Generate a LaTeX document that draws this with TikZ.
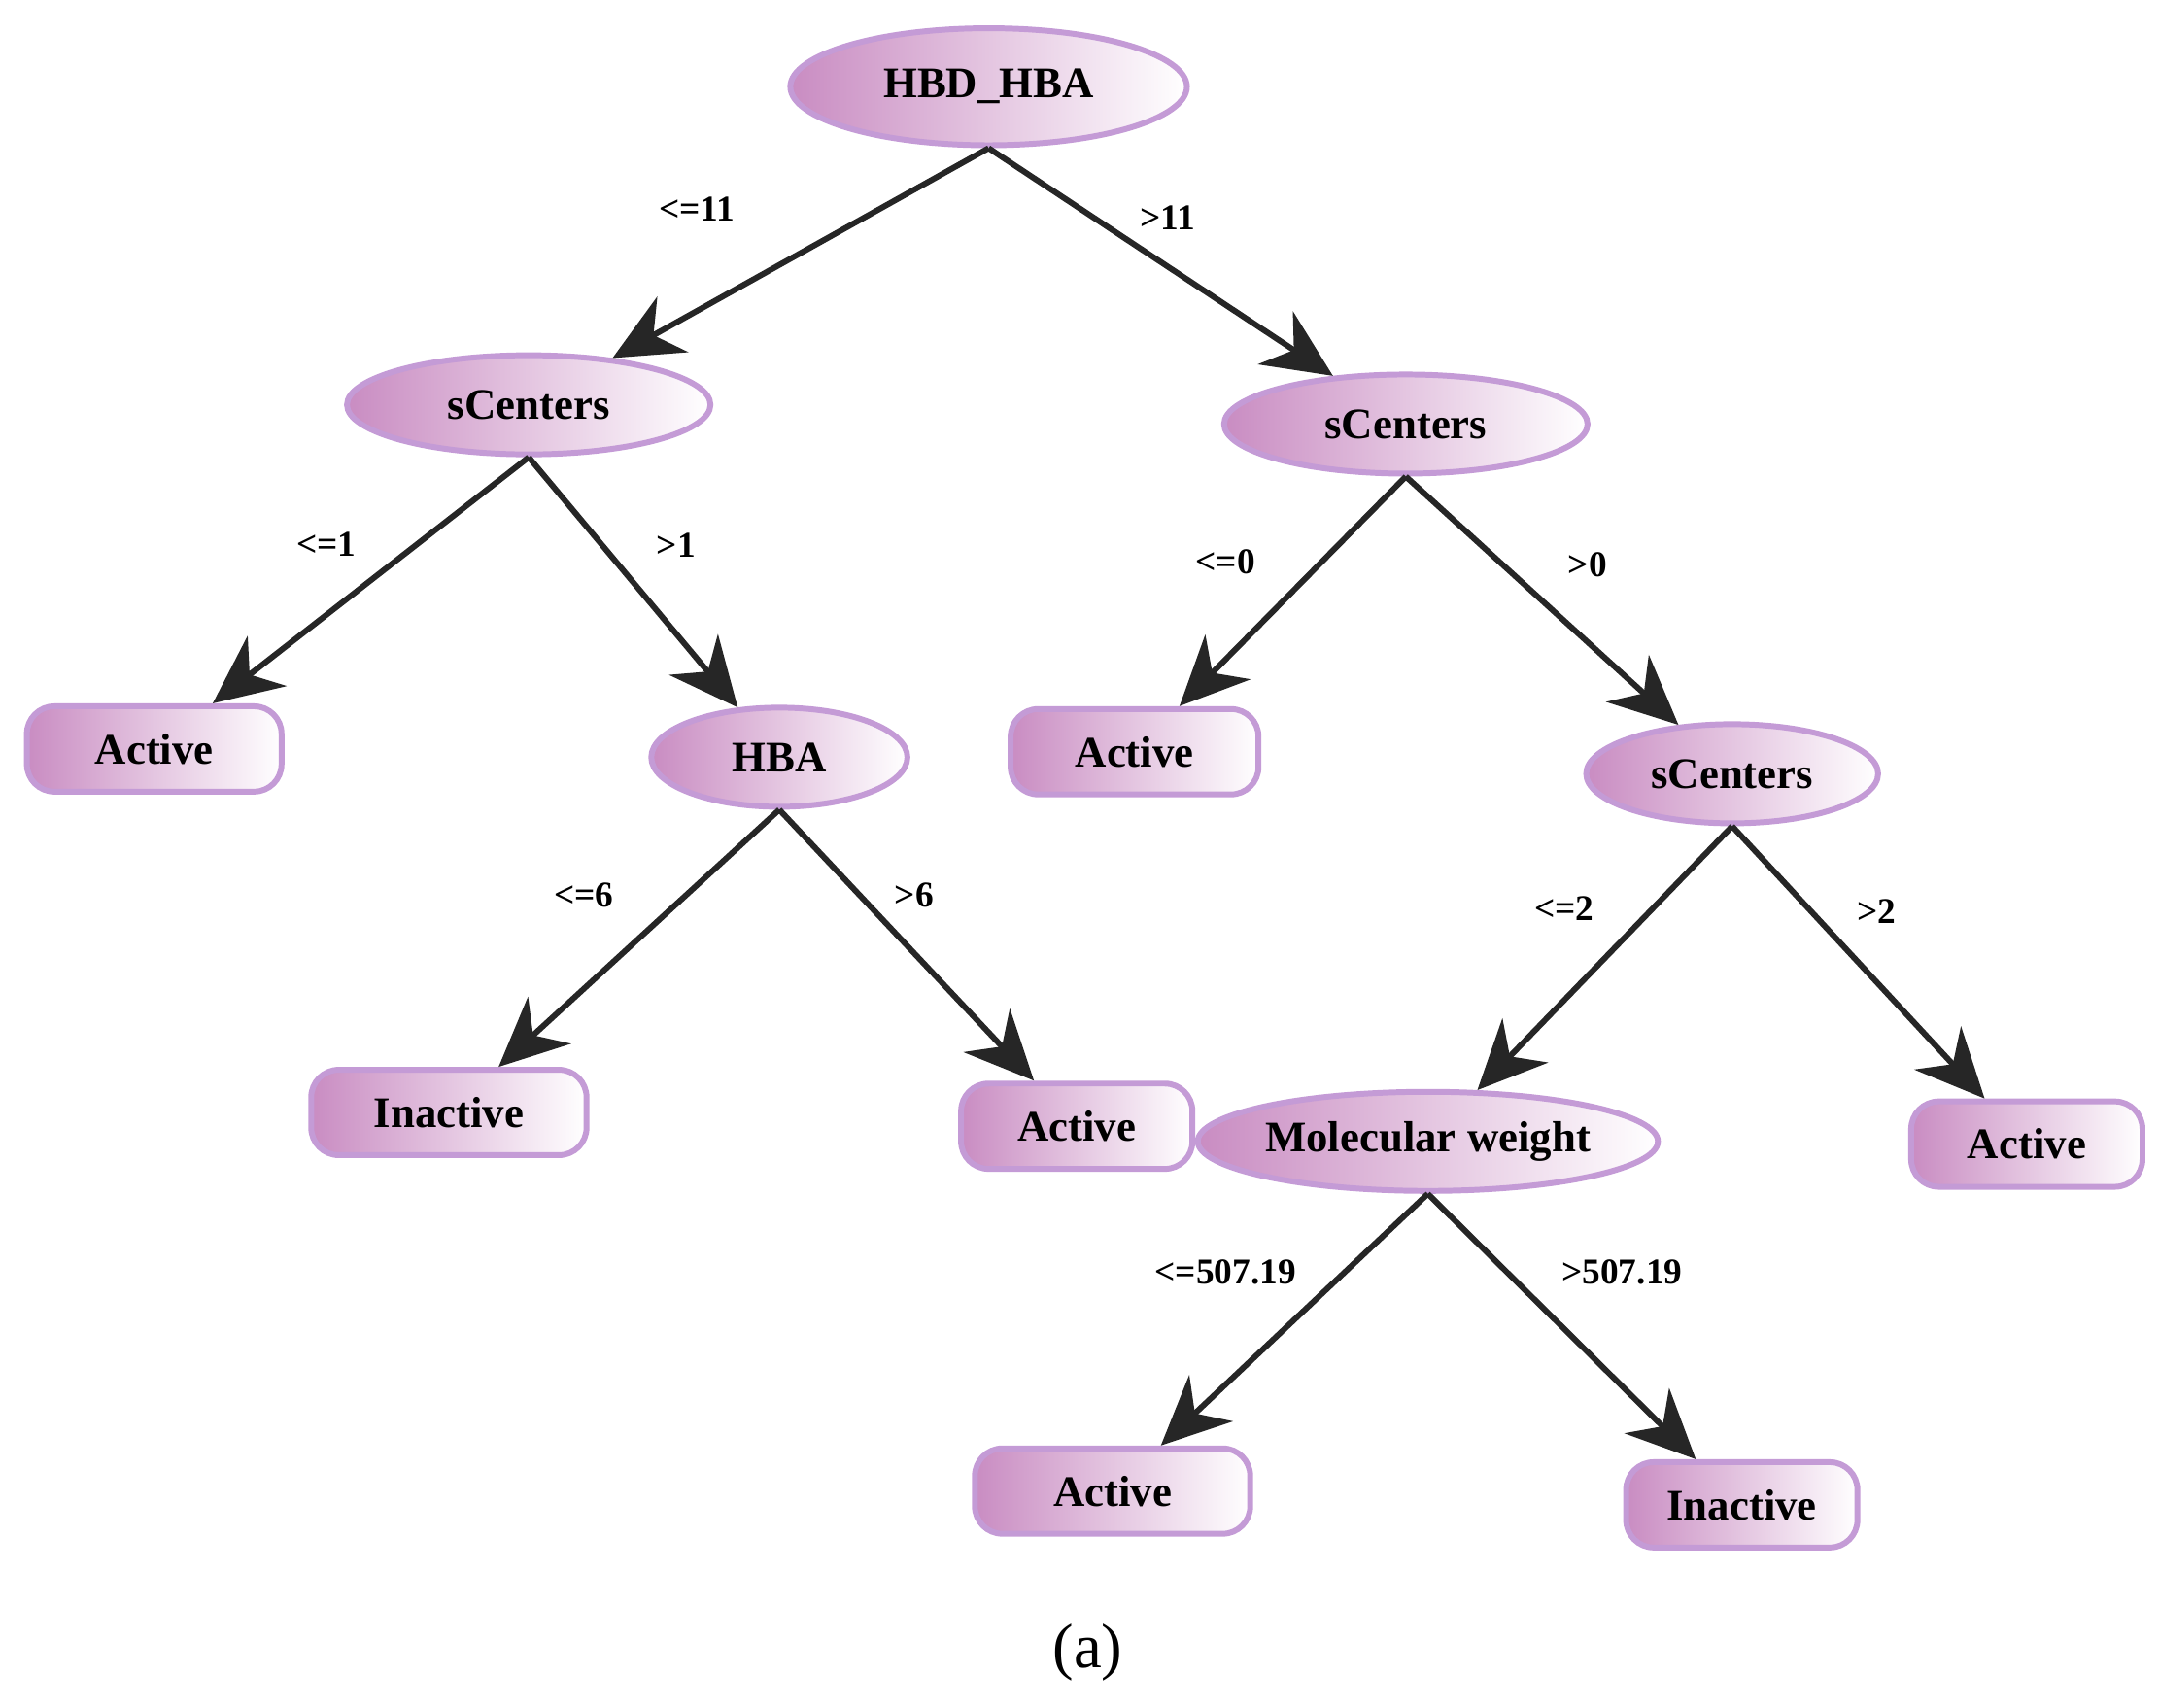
\documentclass[tikz,border=0pt]{standalone}
\usepackage{fontspec}
\setmainfont{Liberation Serif}
\usetikzlibrary{arrows.meta,shapes.geometric}
\definecolor{nodepink}{HTML}{C98CC2}
\definecolor{nodeedge}{HTML}{C49BD6}

\begin{document}
\begin{tikzpicture}
[x=0.1mm,y=-0.1mm,
  edge/.style={-{Stealth[length=5mm,width=4.6mm,inset=1.6mm]},line width=1.2pt,black!85},
  split node/.style={ellipse,draw=nodeedge,line width=1.2pt,left color=nodepink,right color=white,
    inner sep=0pt,font=\fontsize{9}{10}\selectfont\bfseries},
  leaf node/.style={rectangle,rounded corners=2mm,draw=nodeedge,line width=1.2pt,left color=nodepink,right color=white,
    minimum height=6.2mm,inner sep=0pt,font=\fontsize{9}{10}\selectfont\bfseries},
  cond/.style={font=\fontsize{7.5}{9}\selectfont\bfseries}]

  \useasboundingbox (0,0) rectangle (1568,1240);

  \node [split node,minimum width=28.8mm,minimum height=8.5mm] (root) at (718,63) {HBD\_HBA};
  \node [split node,minimum width=26.4mm,minimum height=7.2mm] (scL) at (384,294) {sCenters};
  \node [split node,minimum width=26.4mm,minimum height=7.2mm] (scR) at (1021,308) {sCenters};
  \node [leaf node,minimum width=18.5mm] (actA) at (112,544) {Active};
  \node [split node,minimum width=18.6mm,minimum height=7.2mm] (hba) at (566,550) {HBA};
  \node [leaf node,minimum width=18mm] (actB) at (824,546) {Active};
  \node [split node,minimum width=21.2mm,minimum height=7.2mm] (scRR) at (1258,562) {sCenters};
  \node [leaf node,minimum width=20mm] (inactA) at (326,808) {Inactive};
  \node [leaf node,minimum width=16.8mm] (actC) at (782,818) {Active};
  \node [split node,minimum width=26.2mm,minimum height=7.2mm] (mw) at (1037,829) {Molecular weight};
  \node [leaf node,minimum width=16.8mm] (actD) at (1472,831) {Active};
  \node [leaf node,minimum width=20mm] (actE) at (808,1083) {Active};
  \node [leaf node,minimum width=16.8mm] (inactB) at (1265,1093) {Inactive};
  \node [font=\fontsize{13}{15}\selectfont] (caption) at (790,1200) {(a)};

  \foreach \from/\to in {root/scL,root/scR,scL/actA,scL/hba,scR/actB,scR/scRR,hba/inactA,hba/actC,scRR/mw,scRR/actD,mw/actE,mw/inactB}
    \draw [edge] (\from.south) -- (\to);

  \node [cond] (l1) at (506,152) {<=11};
  \node [cond] (l2) at (848,158) {>11};
  \node [cond] (l3) at (237,395) {<=1};
  \node [cond] (l4) at (491,396) {>1};
  \node [cond] (l5) at (890,408) {<=0};
  \node [cond] (l6) at (1153,410) {>0};
  \node [cond] (l7) at (424,650) {<=6};
  \node [cond] (l8) at (664,650) {>6};
  \node [cond] (l9) at (1136,660) {<=2};
  \node [cond] (l10) at (1363,662) {>2};
  \node [cond] (l11) at (890,924) {<=507.19};
  \node [cond] (l12) at (1178,924) {>507.19};

\end{tikzpicture}
\end{document}
